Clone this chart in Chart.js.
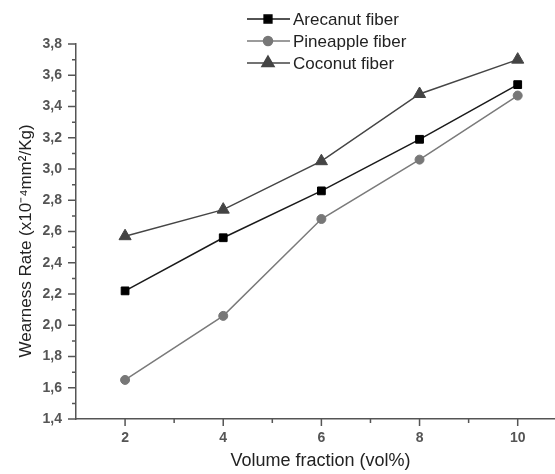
<!DOCTYPE html>
<html>
<head>
<meta charset="utf-8">
<script src="https://cdn.jsdelivr.net/npm/chart.js@4"></script>
<style>
  html, body { margin: 0; padding: 0; background: #fff; }
  #wrap { width: 555px; height: 474px; }
</style>
</head>
<body>
<div id="wrap"><canvas id="chart" width="555" height="474"></canvas></div>
<script>
// Data
const volumeFraction = [2, 4, 6, 8, 10];
const arecanut = [2.22, 2.56, 2.86, 3.19, 3.54];
const pineapple = [1.65, 2.06, 2.68, 3.06, 3.47];
const coconut = [2.57, 2.74, 3.05, 3.48, 3.70];
const seriesNames = ['Arecanut fiber', 'Pineapple fiber', 'Coconut fiber'];
const xTickValues = [1, 2, 3, 4, 5, 6, 7, 8, 9, 10];

const toPoints = ys => ys.map((y, i) => ({ x: volumeFraction[i], y: y }));
const FONT = '"Liberation Sans", Arial, sans-serif';

// Draws the axis tick marks: long on labelled values, short in between
const tickMarks = {
    id: 'tickMarks',
    afterDraw(chart) {
        const ctx = chart.ctx;
        const xs = chart.scales.x, ys = chart.scales.y;
        ctx.save();
        ctx.strokeStyle = '#555';
        ctx.lineWidth = 1.5;
        ctx.beginPath();
        ys.ticks.forEach(t => {
            const major = Math.round(t.value * 10) % 2 === 0;
            const py = ys.getPixelForValue(t.value);
            ctx.moveTo(ys.right - (major ? 8 : 4), py);
            ctx.lineTo(ys.right, py);
        });
        xs.ticks.forEach(t => {
            if (t.value <= xs.min) return;
            const major = t.value % 2 === 0;
            const px = xs.getPixelForValue(t.value);
            ctx.moveTo(px, xs.top);
            ctx.lineTo(px, xs.top + (major ? 7 : 4));
        });
        ctx.stroke();
        ctx.restore();
    }
};

// Legend with a line through each marker, like the original plot
const lineLegend = {
    id: 'lineLegend',
    afterDraw(chart) {
        const ctx = chart.ctx;
        ctx.save();
        chart.data.datasets.forEach((ds, i) => {
            const y = 19 + i * 22;
            ctx.strokeStyle = ds.borderColor;
            ctx.lineWidth = 1.5;
            ctx.beginPath();
            ctx.moveTo(247, y);
            ctx.lineTo(290, y);
            ctx.stroke();
            ctx.fillStyle = ds.pointBackgroundColor;
            ctx.strokeStyle = ds.pointBorderColor;
            Chart.helpers.drawPoint(ctx, {
                pointStyle: ds.pointStyle,
                radius: ds.pointRadius,
                borderWidth: 1,
                rotation: 0
            }, 268, y);
            ctx.fillStyle = '#222';
            ctx.font = '17px ' + FONT;
            ctx.textBaseline = 'middle';
            ctx.fillText(ds.label, 293, y + 1);
        });
        ctx.restore();
    }
};

new Chart(document.getElementById('chart'), {
    type: 'line',
    data: {
        datasets: [
            {
                label: seriesNames[0],
                data: toPoints(arecanut),
                borderColor: '#1a1a1a',
                borderWidth: 1.5,
                pointStyle: 'rect',
                pointRadius: 5.5,
                pointBackgroundColor: '#000',
                pointBorderColor: '#000',
                pointBorderWidth: 1
            },
            {
                label: seriesNames[1],
                data: toPoints(pineapple),
                borderColor: '#7a7a7a',
                borderWidth: 1.5,
                pointStyle: 'circle',
                pointRadius: 4.5,
                pointBackgroundColor: '#777',
                pointBorderColor: '#777',
                pointBorderWidth: 1
            },
            {
                label: seriesNames[2],
                data: toPoints(coconut),
                borderColor: '#454545',
                borderWidth: 1.5,
                pointStyle: 'triangle',
                pointRadius: 7,
                pointBackgroundColor: '#444',
                pointBorderColor: '#444',
                pointBorderWidth: 1
            }
        ]
    },
    options: {
        responsive: false,
        animation: false,
        layout: { autoPadding: false, padding: { top: 44, left: 0, right: 0, bottom: 0 } },
        plugins: {
            legend: { display: false },
            tooltip: { enabled: false }
        },
        scales: {
            x: {
                type: 'linear',
                min: 1,
                max: 10.76,
                afterFit: s => { s.height = 55; },
                afterBuildTicks: s => { s.ticks = xTickValues.map(v => ({ value: v })); },
                grid: { display: false },
                border: { display: true, color: '#555', width: 1.5 },
                ticks: {
                    padding: 3,
                    autoSkip: false,
                    maxRotation: 0,
                    color: '#555',
                    font: { size: 14, weight: 'bold', family: FONT },
                    callback: v => v % 2 === 0 ? String(v) : ''
                },
                title: {
                    display: true,
                    text: '  Volume fraction (vol%)',
                    color: '#222',
                    padding: { top: 0, bottom: 2 },
                    font: { size: 18, family: FONT }
                }
            },
            y: {
                min: 1.4,
                max: 3.8,
                afterFit: s => { s.width = 76; },
                grid: { display: false },
                border: { display: true, color: '#555', width: 1.5 },
                ticks: {
                    stepSize: 0.1,
                    padding: 6,
                    autoSkip: false,
                    color: '#555',
                    font: { size: 14, weight: 'bold', family: FONT },
                    callback: v => Math.round(v * 10) % 2 === 0 ? v.toFixed(1).replace('.', ',') : ''
                },
                title: {
                    display: true,
                    text: 'Wearness Rate (x10\u207B\u2074mm\u00B2/Kg)    ',
                    color: '#222',
                    padding: { top: 16, bottom: 0 },
                    font: { size: 17, family: FONT }
                }
            }
        }
    },
    plugins: [tickMarks, lineLegend]
});
</script>
</body>
</html>
